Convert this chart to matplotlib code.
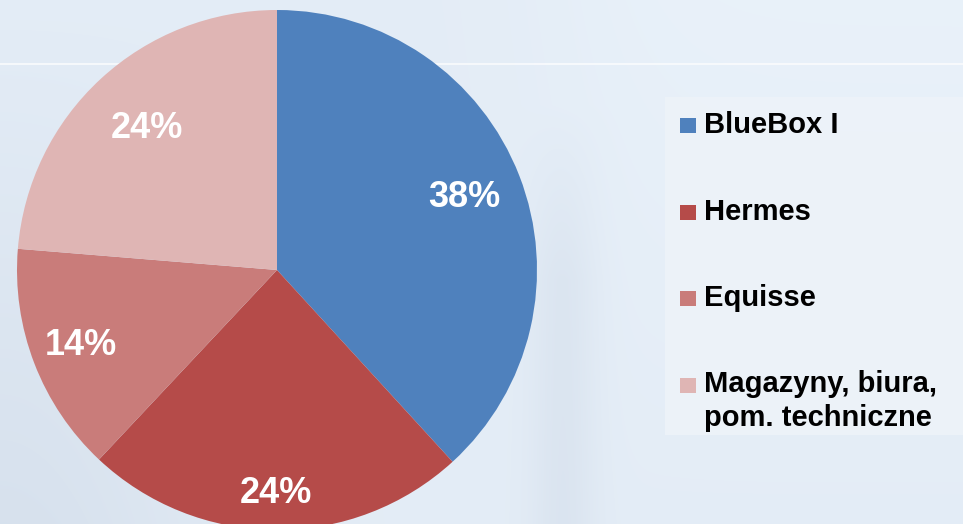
import numpy as np
import matplotlib.pyplot as plt
from matplotlib.patches import Rectangle

plt.rcParams['font.family'] = ['Liberation Sans', 'DejaVu Sans']

# data
labels = ['BlueBox I', 'Hermes', 'Equisse', 'Magazyny, biura,\npom. techniczne']
shares = [38.2, 23.8, 14.3, 23.7]
pct_labels = ['38%', '24%', '14%', '24%']
colors = ['#4f81bd', '#b54b49', '#c97c7a', '#dfb5b4']

W, H = 963, 524
fig = plt.figure(figsize=(W / 100, H / 100), dpi=100)
ax = fig.add_axes([0, 0, 1, 1])

# soft background, roughly like the slide picture (row 0 = top)
xx, yy = np.meshgrid(np.linspace(0, 1, W), np.linspace(0, 1, H))
base = np.array([0.893, 0.928, 0.966])
shade = 0.035 * np.exp(-((xx - 0.585) / 0.035) ** 2) * np.clip((yy - 0.2) * 3, 0, 1)
shade += 0.05 * np.exp(-(xx / 0.22) ** 2) * yy
shade -= 0.02 * (1 - yy) / (1 + np.exp(-(xx - 0.6) / 0.05))
bg = base[None, None, :] - shade[:, :, None] * np.array([1.0, 0.9, 0.7])
ax.imshow(np.clip(bg, 0, 1), extent=(0, W, 0, H), origin='upper', zorder=0)
ax.axhline(H - 64, color='white', lw=1.2, alpha=0.8, zorder=1)

cx, cy, r = 277, H - 270, 260
wedges, _ = ax.pie(shares, colors=colors, startangle=90, counterclock=False,
                   center=(cx, cy), radius=r, frame=True,
                   wedgeprops=dict(linewidth=0))
for w in wedges:
    w.set_zorder(2)

dists = [0.775, 0.86, 0.81, 0.74]
for w, txt, d in zip(wedges, pct_labels, dists):
    ang = np.deg2rad((w.theta1 + w.theta2) / 2)
    ax.text(cx + d * r * np.cos(ang), cy + d * r * np.sin(ang), txt,
            ha='center', va='center', color='white', fontsize=26,
            fontweight='bold', zorder=3)

# legend panel
ax.add_patch(Rectangle((665, H - 435), W - 665, 338, facecolor='#eef3f9',
                       edgecolor='none', alpha=0.85, zorder=1))
step = 86.5
for i, (lab, col) in enumerate(zip(labels, colors)):
    base_y = H - (133 + i * step)
    ax.add_patch(Rectangle((680, base_y), 16, 15, facecolor=col,
                           edgecolor='none', zorder=3))
    for j, line in enumerate(lab.split('\n')):
        ax.text(704, base_y - j * 34, line, ha='left', va='baseline',
                fontsize=21, fontweight='bold', color='black', zorder=3)

ax.set_xlim(0, W)
ax.set_ylim(0, H)
ax.set_aspect('equal')
ax.axis('off')
fig.savefig('out.png', dpi=100)
